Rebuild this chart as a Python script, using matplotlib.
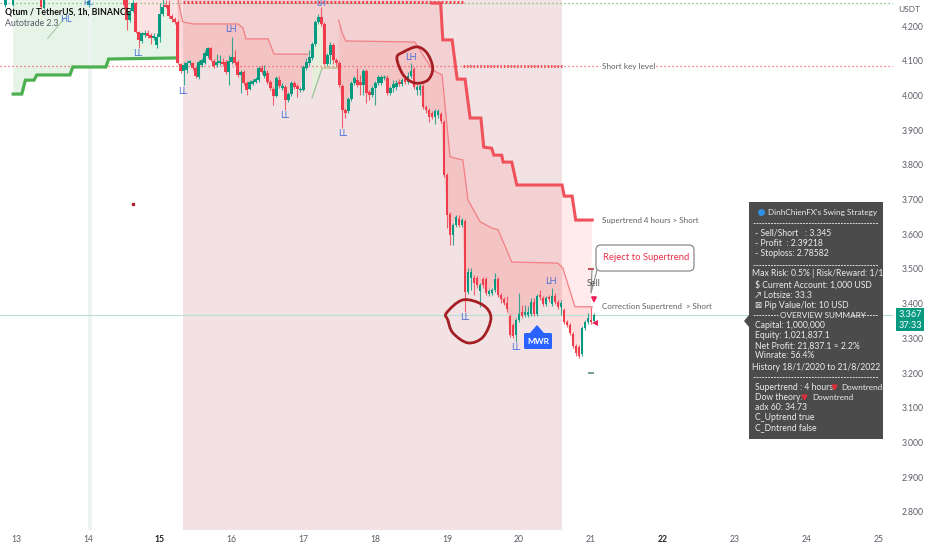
import numpy as np
import matplotlib
matplotlib.use("Agg")
import matplotlib.pyplot as plt
from matplotlib.path import Path
from matplotlib.patches import PathPatch, Polygon, FancyBboxPatch, Rectangle

plt.rcParams['font.family'] = ['Lato', 'DejaVu Sans']

# ---- hourly candles, starting 14.5 (one every hour) ----
first_day = 14.5
opens = [4.298,4.275,4.217,4.243,4.266,4.183,4.157,4.174,4.180,4.174,
 4.166,4.145,4.168,4.235,4.261,4.261,4.229,4.220,4.212,4.091,
 4.071,4.073,4.094,4.094,4.079,4.053,4.088,4.094,4.114,4.137,
 4.099,4.088,4.094,4.096,4.096,4.068,4.096,4.111,4.096,4.059,
 4.068,4.036,4.019,4.033,4.039,4.045,4.079,4.056,4.065,4.039,
 4.019,3.999,4.045,4.022,4.024,3.987,4.004,4.036,4.027,4.016,
 4.016,4.079,4.094,4.108,4.148,4.212,4.226,4.206,4.091,4.117,
 4.145,4.102,4.094,4.027,3.958,3.955,3.990,4.036,4.045,4.039,
 4.030,4.071,4.010,4.001,4.022,4.036,4.036,4.050,4.050,4.007,
 4.022,4.024,4.039,4.033,4.048,4.039,4.056,4.076,4.016,4.016,
 4.027,3.967,3.958,3.949,3.938,3.944,3.947,3.923,3.771,3.659,
 3.598,3.627,3.644,3.627,3.638,3.434,3.474,3.474,3.474,3.437,
 3.471,3.471,3.428,3.431,3.440,3.471,3.425,3.414,3.402,3.365,
 3.339,3.310,3.353,3.376,3.368,3.368,3.371,3.405,3.371,3.422,
 3.417,3.399,3.417,3.399,3.422,3.405,3.391,3.382,3.348,3.339,
 3.313,3.278,3.275,3.255,3.330,3.348,3.353,3.351]
closes = [4.261,4.217,4.243,4.266,4.183,4.160,4.180,4.180,4.171,4.166,
 4.171,4.168,4.235,4.255,4.255,4.229,4.220,4.212,4.094,4.071,
 4.088,4.094,4.096,4.079,4.056,4.096,4.102,4.122,4.137,4.102,
 4.085,4.096,4.099,4.091,4.068,4.099,4.111,4.094,4.059,4.068,
 4.036,4.016,4.039,4.042,4.048,4.079,4.068,4.071,4.039,4.022,
 3.999,4.050,4.027,4.027,3.987,4.004,4.036,4.024,4.019,4.019,
 4.082,4.096,4.111,4.148,4.212,4.226,4.206,4.091,4.117,4.145,
 4.102,4.094,4.030,3.958,3.949,3.990,4.036,4.050,4.030,4.030,
 4.071,4.007,4.001,4.022,4.036,4.053,4.053,4.053,4.007,4.022,
 4.033,4.036,4.033,4.045,4.039,4.056,4.071,4.024,4.024,4.027,
 3.967,3.958,3.938,3.938,3.955,3.955,3.926,3.771,3.656,3.598,
 3.627,3.650,3.627,3.641,3.434,3.491,3.491,3.460,3.454,3.454,
 3.454,3.431,3.437,3.440,3.471,3.425,3.414,3.402,3.385,3.310,
 3.307,3.353,3.371,3.365,3.376,3.376,3.405,3.371,3.422,3.420,
 3.399,3.417,3.414,3.422,3.405,3.391,3.402,3.348,3.339,3.316,
 3.278,3.258,3.249,3.330,3.348,3.359,3.348,3.368]
highs = [4.304,4.289,4.252,4.275,4.269,4.186,4.183,4.189,4.189,4.180,
 4.180,4.180,4.266,4.281,4.275,4.275,4.235,4.226,4.217,4.094,
 4.096,4.099,4.102,4.096,4.085,4.102,4.108,4.131,4.140,4.140,
 4.105,4.119,4.117,4.108,4.102,4.117,4.168,4.131,4.102,4.073,
 4.073,4.042,4.045,4.048,4.053,4.085,4.088,4.088,4.073,4.045,
 4.024,4.056,4.056,4.036,4.030,4.010,4.042,4.042,4.033,4.024,
 4.088,4.108,4.131,4.154,4.217,4.235,4.255,4.212,4.122,4.154,
 4.151,4.108,4.099,4.033,3.964,3.996,4.042,4.056,4.079,4.059,
 4.076,4.076,4.016,4.027,4.042,4.059,4.059,4.059,4.059,4.027,
 4.045,4.045,4.048,4.050,4.053,4.068,4.094,4.082,4.030,4.033,
 4.033,3.973,3.964,3.955,3.961,3.961,3.952,3.929,3.777,3.664,
 3.633,3.656,3.656,3.647,3.644,3.503,3.503,3.483,3.480,3.460,
 3.477,3.477,3.443,3.446,3.489,3.477,3.431,3.420,3.422,3.371,
 3.345,3.359,3.431,3.397,3.397,3.394,3.417,3.417,3.428,3.440,
 3.422,3.422,3.425,3.445,3.431,3.411,3.411,3.388,3.353,3.345,
 3.319,3.284,3.281,3.336,3.353,3.373,3.391,3.373]
lows = [4.252,4.189,4.212,4.240,4.180,4.137,4.151,4.168,4.166,4.148,
 4.160,4.137,4.154,4.229,4.252,4.223,4.212,4.206,4.091,4.065,
 4.030,4.065,4.088,4.073,4.050,4.047,4.082,4.091,4.108,4.099,
 4.079,4.082,4.088,4.085,4.062,4.030,4.091,4.088,4.053,4.007,
 4.030,4.001,4.016,4.030,4.036,4.039,4.062,4.050,4.033,4.016,
 3.973,3.996,4.022,4.016,3.958,3.981,3.999,4.019,3.996,4.010,
 4.013,4.073,4.088,4.102,4.142,4.206,4.200,4.088,4.085,4.091,
 4.091,4.085,4.024,3.906,3.935,3.949,3.984,4.030,4.024,4.001,
 4.001,3.978,3.987,3.996,3.973,4.030,4.030,4.045,4.001,4.001,
 4.010,4.016,4.027,4.027,4.033,4.033,4.050,4.019,4.001,4.001,
 3.961,3.949,3.923,3.932,3.918,3.935,3.921,3.765,3.618,3.569,
 3.569,3.621,3.621,3.621,3.376,3.428,3.440,3.425,3.446,3.391,
 3.446,3.425,3.422,3.425,3.434,3.420,3.402,3.397,3.376,3.304,
 3.301,3.290,3.348,3.359,3.362,3.362,3.365,3.365,3.365,3.411,
 3.394,3.394,3.405,3.394,3.399,3.385,3.368,3.342,3.333,3.310,
 3.273,3.249,3.244,3.249,3.325,3.342,3.342,3.345]

# candles at the far top left, before the main run
early_days = [12.85, 12.96, 13.35, 13.39, 14.01]
early_open = [4.262, 4.262, 4.290, 4.252, 4.262]
early_close = [4.275, 4.285, 4.255, 4.290, 4.272]
early_high = [4.290, 4.290, 4.300, 4.295, 4.290]
early_low = [4.255, 4.258, 4.250, 4.250, 4.255]

# ---- indicator lines ----
st4h_days = [18.79,18.91,18.94,19.07,19.14,19.25,19.32,19.47,19.51,19.62,19.65,19.76,19.78,19.90,19.97,20.60,20.63,20.74,20.79,21.02]
st4h_vals = [4.266,4.266,4.160,4.160,4.047,4.047,3.935,3.935,3.851,3.848,3.828,3.828,3.808,3.808,3.742,3.742,3.710,3.710,3.641,3.641]
corr_a_days = [15.25,15.32,15.46,16.09,16.16,16.20,16.51,16.59,17.06]
corr_a_vals = [4.281,4.212,4.206,4.206,4.194,4.163,4.163,4.119,4.119]
corr_b_days = [17.49,17.54,17.59,18.55,18.80,18.93,19.04,19.22,19.29,19.46,19.62,19.71,19.90,20.54,20.61,20.78,21.02]
corr_b_vals = [4.217,4.180,4.157,4.154,4.073,4.059,3.823,3.814,3.699,3.636,3.618,3.613,3.520,3.517,3.503,3.391,3.391]
up_days = [12.96,13.08,13.13,13.25,13.29,13.75,13.79,14.25,14.29,15.23]
up_vals = [4.004,4.004,4.044,4.044,4.059,4.059,4.082,4.082,4.105,4.108]
thin_up_days = [17.12,17.26,17.47]
thin_up_vals = [3.993,4.079,4.079]
thin_up2_days = [13.44,13.68]
thin_up2_vals = [4.164,4.223]

key_level = 4.085
top_red = 4.269
top_green = 4.266
last_price = 3.367

circle1_days = [18.30,18.39,18.58,18.72,18.80,18.73,18.55,18.39]
circle1_vals = [4.108,4.125,4.140,4.122,4.079,4.044,4.036,4.059]
circle2_days = [18.99,19.22,19.50,19.61,19.50,19.29,19.08,19.01]
circle2_vals = [3.373,3.411,3.396,3.359,3.304,3.287,3.316,3.353]

day_ticks = list(range(13, 26))
price_ticks = [2.8,2.9,3.0,3.1,3.2,3.3,3.4,3.5,3.6,3.7,3.8,3.9,4.0,4.1,4.2]

RED = '#ef3d4e'
TEAL = '#089981'
TXT = '#5a5e68'

fig = plt.figure(figsize=(9.32, 5.5), dpi=100, facecolor='white')
ax = fig.add_axes([0, 20/550, 893/932, 530/550])
ax.set_xlim(12.777, 25.206)
ax.set_ylim(2.748, 4.275)
for s in ax.spines.values():
    s.set_visible(False)
ax.set_xticks(day_ticks)
ax.set_xticklabels([str(d) for d in day_ticks])
ax.set_yticks(price_ticks)
ax.set_yticklabels([f'{p:.3f}' for p in price_ticks])
ax.yaxis.tick_right()
ax.tick_params(axis='y', length=0, pad=6.5, labelsize=6.2, labelcolor=TXT)
ax.tick_params(axis='x', length=0, pad=3.5, labelsize=6.2, labelcolor=TXT)
for lab in ax.get_xticklabels():
    if lab.get_text() in ('15', '22'):
        lab.set_fontweight('bold')
        lab.set_color('#222222')

o, c, h, l = map(np.array, (opens, closes, highs, lows))
days = first_day + np.arange(len(o)) / 24

# backgrounds
ax.axvspan(15.32, 20.60, ymin=0, ymax=1, color='#f2e2e3', lw=0, zorder=1)
ax.axvspan(14.0, 14.06, color='#edf3f0', lw=0, zorder=1.2)

m = (days >= 14.66) & (days <= 15.25)
gx = np.r_[12.96, days[m], up_days[::-1]]
gy = np.r_[4.30, c[m], up_vals[::-1]]
gx = np.r_[12.96, 14.66, gx[1:]]
gy = np.r_[4.30, 4.30, gy[1:]]
ax.fill(gx, gy, color='#e6f3e7', lw=0, zorder=1.1)
ax.fill(np.r_[14.66, days[m], 15.32], np.r_[4.30, c[m], 4.30], color='#fbe3e3', lw=0, zorder=1.3)

m = (days >= 15.25) & (days <= 21.02)
ax.fill(np.r_[15.25, 18.79, st4h_days, days[m][::-1]],
        np.r_[4.30, 4.30, st4h_vals, c[m][::-1]], color='#ff4040', alpha=0.10, lw=0, zorder=2)
m2 = (days >= corr_a_days[0]) & (days <= corr_a_days[-1])
ax.fill(np.r_[corr_a_days, days[m2][::-1]], np.r_[corr_a_vals, c[m2][::-1]], color='#ff4040', alpha=0.09, lw=0, zorder=2.1)
m3 = (days >= corr_b_days[0]) & (days <= corr_b_days[-1])
ax.fill(np.r_[corr_b_days, days[m3][::-1]], np.r_[corr_b_vals, c[m3][::-1]], color='#ff4040', alpha=0.09, lw=0, zorder=2.1)
m4 = (days >= thin_up_days[0]) & (days <= thin_up_days[-1])
ax.fill(np.r_[thin_up_days, days[m4][::-1]], np.r_[thin_up_vals, c[m4][::-1]], color='#e6efdc', lw=0, zorder=2.2)

# horizontal levels
ax.axhline(top_green, color='#6fb56f', lw=0.9, ls=(0, (1, 2.2)), zorder=3)
ax.axhline(key_level, color='#ef5560', lw=0.9, ls=(0, (1, 2.2)), zorder=3)
ax.plot([19.22, 20.60], [key_level, key_level], color='#ef5560', lw=2.2, ls=(0, (0.5, 0.6)), zorder=3)
ax.plot([15.32, 19.22], [top_red, top_red], color='#ef3d4e', lw=2.2, ls=(0, (0.6, 0.7)), zorder=3)
ax.axhline(last_price, color='#b9e0d8', lw=0.8, zorder=3)

# indicator lines
ax.plot(up_days, up_vals, color='#4caf50', lw=2.3, solid_joinstyle='miter', zorder=4)
ax.plot(st4h_days, st4h_vals, color='#f0525c', lw=2.2, solid_joinstyle='miter', zorder=4)
ax.plot(corr_a_days, corr_a_vals, color='#f27f84', lw=0.9, zorder=4)
ax.plot(corr_b_days, corr_b_vals, color='#f27f84', lw=0.9, zorder=4)
ax.plot(thin_up_days[:2], thin_up_vals[:2], color='#9dc29a', lw=0.9, zorder=4)
ax.plot(thin_up_days[1:], thin_up_vals[1:], color='#cdc79c', lw=1.3, zorder=4)
ax.plot(thin_up2_days, thin_up2_vals, color='#a9c8a6', lw=0.8, zorder=4)

# candles
def candles(d, op, cl, hi, lo):
    d, op, cl, hi, lo = map(np.asarray, (d, op, cl, hi, lo))
    cols = np.where(cl >= op, TEAL, RED)
    ax.vlines(d, lo, hi, colors=cols, lw=0.8, alpha=0.8, zorder=5)
    ax.bar(d, np.maximum(np.abs(cl - op), 0.004), bottom=np.minimum(op, cl),
           width=0.036, color=cols, lw=0, zorder=5.1)

candles(days, o, c, h, l)
candles(early_days, early_open, early_close, early_high, early_low)

# hand drawn circles
def blob(xs, ys):
    pts = np.column_stack([xs, ys])
    n = len(pts)
    verts = [pts[0]]
    codes = [Path.MOVETO]
    for i in range(n):
        p0, p1, p2, p3 = pts[i-1], pts[i], pts[(i+1) % n], pts[(i+2) % n]
        verts += [p1 + (p2 - p0) / 6, p2 - (p3 - p1) / 6, p2]
        codes += [Path.CURVE4] * 3
    ax.add_patch(PathPatch(Path(verts, codes), fc='none', ec='#a51e24', lw=2, zorder=6))

blob(circle1_days, circle1_vals)
blob(circle2_days, circle2_vals)

ax.plot([14.63], [3.687], marker='s', ms=1.4, color='#b0202a', zorder=6)
ax.plot([21.0], [3.500], marker='_', ms=4, mew=1.2, color='#c0303a', zorder=6)
ax.plot([21.0], [3.200], marker='_', ms=4, mew=1.2, color='#5f8f88', zorder=6)
ax.plot([21.06], [3.345], marker='<', ms=4.5, color='#ef1f5a', mew=0, zorder=6)

# overlay in figure pixels for labels and panels
ov = fig.add_axes([0, 0, 1, 1], facecolor='none')
ov.set_xlim(0, 932)
ov.set_ylim(550, 0)
ov.axis('off')

# pivots
for txt, x, y, fs in [('HL', 66, 20, 6.6), ('HL', 88, 2.8, 5.6), ('LL', 138, 54, 6.6), ('LL', 183, 92, 6.6),
                      ('LH', 231, 29, 6.6), ('LL', 285, 116, 6.6), ('LL', 343, 134, 6.6), ('LH', 411, 57, 6.6),
                      ('LL', 465, 318, 6.6), ('LL', 516, 348, 6.6), ('LH', 551, 282, 6.6), ('LH', 321, 3.2, 5.6)]:
    ov.text(x, y, txt, color='#4a6fd8', fontsize=fs, ha='center', va='center', zorder=7)

ov.text(5, 11.5, 'Qtum / TetherUS, 1h, BINANCE', color='#111111', fontsize=6.3, fontweight='bold', va='center', zorder=7)
ov.text(5, 24, 'Autotrade 2.3', color='#555b66', fontsize=6.3, va='center', zorder=7)

ov.text(602, 66, 'Short key level', color='#5f6066', fontsize=5.9, va='center', zorder=7,
        bbox=dict(fc='white', ec='none', pad=0.6))
ov.text(602, 221, 'Supertrend 4 hours > Short', color='#5f6066', fontsize=5.8, va='center', zorder=7)
ov.text(602, 307, 'Correction Supertrend  > Short', color='#5f6066', fontsize=5.8, va='center', zorder=7)
ov.text(594, 284, 'Sell', color='#555555', fontsize=6.4, ha='center', va='center', zorder=7)
ov.text(920, 10, 'USDT', color=TXT, fontsize=6, ha='right', va='center', zorder=7)

# callout
ov.add_patch(FancyBboxPatch((596, 245), 98, 26, boxstyle='round,pad=0,rounding_size=5',
                            fc='white', ec='#8a8a8a', lw=0.9, zorder=7))
ov.plot([597, 591, 592], [270, 293, 270], color='#8a8a8a', lw=0.8, zorder=6.9)
ov.text(603, 258, 'Reject to Supertrend', color='#e8324a', fontsize=6.8, va='center', zorder=8)
ov.annotate('', xy=(594, 306), xytext=(594, 295), zorder=8,
            arrowprops=dict(arrowstyle='-|>', color='#ef1f5a', lw=1.4, mutation_scale=7))

# MWR badge
ov.add_patch(Polygon([(530, 333), (537, 325), (544, 333)], fc='#2962ff', ec='none', zorder=7))
ov.add_patch(FancyBboxPatch((524, 333), 28, 16, boxstyle='round,pad=0,rounding_size=1.5',
                            fc='#2962ff', ec='none', zorder=7))
ov.text(538, 341, 'MWR', color='white', fontsize=6, fontweight='bold', ha='center', va='center', zorder=8)

# price tag
ov.add_patch(Rectangle((896, 308), 28, 23, fc='#089981', ec='none', zorder=7))
ov.text(910, 314.5, '3.367', color='white', fontsize=6.6, ha='center', va='center', zorder=8)
ov.text(910, 325, '37:33', color='white', fontsize=6.6, ha='center', va='center', zorder=8)

# info panel
PANEL = '#4b4b4b'
ov.add_patch(Rectangle((749, 202), 134, 237, fc=PANEL, ec='none', zorder=7))
ov.add_patch(Polygon([(744, 321), (749, 315), (749, 327)], fc=PANEL, ec='none', zorder=7))
ov.plot([760.5], [212], marker='o', ms=4, color='#2f8fe0', zorder=8)
panel_lines = [
    (768, 213, "DinhChienFX's Swing Strategy"),
    (755, 233, "- Sell/Short   : 3.345"),
    (755, 244, "- Profit  : 2.39218"),
    (755, 254, "- Stoploss: 2.78582"),
    (752, 274, "Max Risk: 0.5% | Risk/Reward: 1/1"),
    (755, 285, "$ Current Account: 1,000 USD"),
    (755, 295, "\u2197 Lotsize: 33.3"),
    (755, 305, "\u22a0 Pip Value/lot: 10 USD"),
    (780, 315, "OVERVIEW SUMMARY"),
    (755, 326, "Capital: 1,000,000"),
    (755, 336, "Equity: 1,021,837.1"),
    (755, 346, "Net Profit: 21,837.1 \u2248 2.2%"),
    (755, 356, "Winrate: 56.4%"),
    (752, 367, "History 18/1/2020 to 21/8/2022"),
    (755, 387, "Supertrend : 4 hours"),
    (841, 387, "Downtrend"),
    (755, 397, "Dow theory:"),
    (812, 397, "Downtrend"),
    (755, 407, "adx 60: 34.73"),
    (755, 418, "C_Uptrend true"),
    (755, 428, "C_Dntrend false"),
]
for x, y, t in panel_lines:
    fs = 5.9 if t.startswith(('Dinh', 'OVERVIEW', 'Downtrend')) else 6.2
    ov.text(x, y, t, color='#ececec', fontsize=fs, va='center', zorder=8)
for x0, x1, y in [(753, 878, 223), (753, 878, 265), (753, 778, 315), (852, 878, 315), (753, 878, 377)]:
    ov.plot([x0, x1], [y, y], color='#d8d8d8', lw=0.7, ls=(0, (2, 1)), zorder=8)
ov.plot([834, 804], [387, 397], ls='none', marker='v', ms=3.5, color='#d8303a', zorder=8)

fig.savefig('out.png', dpi=100, facecolor='white')
